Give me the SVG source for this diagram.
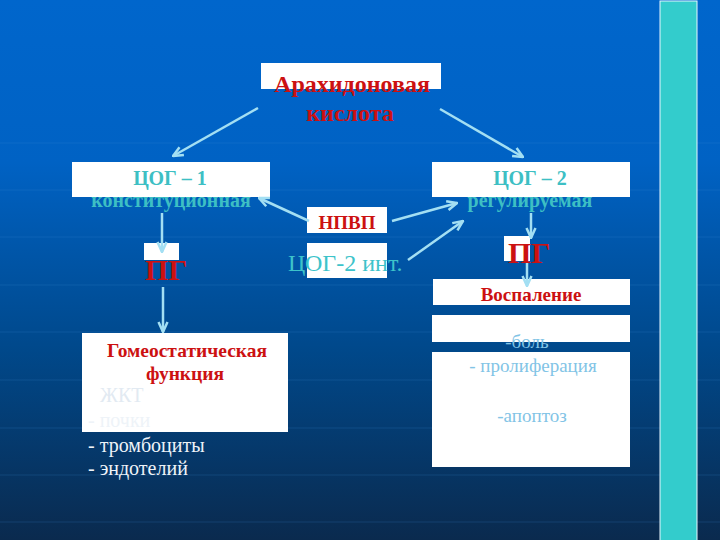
<svg xmlns="http://www.w3.org/2000/svg" width="720" height="540" viewBox="0 0 720 540">
<defs>
<linearGradient id="bg" x1="0" y1="0" x2="0" y2="1">
<stop offset="0" stop-color="#0066CC"/>
<stop offset="0.3" stop-color="#0062C4"/>
<stop offset="0.65" stop-color="#00488A"/>
<stop offset="1" stop-color="#0A2A4E"/>
</linearGradient>
<marker id="ah" viewBox="0 0 12 12" refX="11" refY="6" markerWidth="12" markerHeight="12" markerUnits="userSpaceOnUse" orient="auto">
<path d="M1,1.5 L11,6 L1,10.5" fill="none" stroke="#A3DFF3" stroke-width="2.5" stroke-linejoin="miter"/>
</marker>
<style>
.box{fill:#FFFFFF}
.red{font-family:"Liberation Serif",serif;font-weight:bold;fill:#CC1111}
.teal{font-family:"Liberation Serif",serif;font-weight:bold;fill:#3DBFC4}
.lb{font-family:"Liberation Serif",serif;fill:#82C4E6;font-size:19px}
.wh{font-family:"Liberation Serif",serif;fill:#EEF3F8;font-size:20px}
.grid{stroke:#3F8FD8;stroke-width:1;opacity:0.2}
.conn{fill:none;stroke:#A3DFF3;stroke-width:2.5;marker-end:url(#ah)}
</style>
</defs>
<rect x="0" y="0" width="720" height="540" fill="url(#bg)"/>
<g id="grid">
<line class="grid" x1="0" y1="143" x2="720" y2="143"/>
<line class="grid" x1="0" y1="190" x2="720" y2="190"/>
<line class="grid" x1="0" y1="237" x2="720" y2="237"/>
<line class="grid" x1="0" y1="285" x2="720" y2="285"/>
<line class="grid" x1="0" y1="332" x2="720" y2="332"/>
<line class="grid" x1="0" y1="380" x2="720" y2="380"/>
<line class="grid" x1="0" y1="428" x2="720" y2="428"/>
<line class="grid" x1="0" y1="475" x2="720" y2="475"/>
<line class="grid" x1="0" y1="522" x2="720" y2="522"/>
</g>
<rect id="sidebar" x="660" y="1" width="37" height="540" fill="#33CCCC" stroke="#E8F8FF" stroke-width="1"/>
<g id="arachidonic">
<rect class="box" x="261" y="63" width="180" height="26"/>
<text class="red" x="352" y="92" font-size="24" text-anchor="middle">Арахидоновая</text>
<text class="red" x="350" y="121" font-size="24" text-anchor="middle">кислота</text>
</g>
<g id="cox1">
<rect class="box" x="72" y="162" width="198" height="35"/>
<text class="teal" x="170" y="185" font-size="20" text-anchor="middle">ЦОГ – 1</text>
<text class="teal" x="171" y="207" font-size="20" text-anchor="middle">конституционная</text>
</g>
<g id="cox2">
<rect class="box" x="432" y="162" width="198" height="35"/>
<text class="teal" x="530" y="185" font-size="20" text-anchor="middle">ЦОГ – 2</text>
<text class="teal" x="530" y="207" font-size="20" text-anchor="middle">регулируемая</text>
</g>
<g id="nsaid">
<rect class="box" x="307" y="207" width="80" height="26"/>
<text class="red" x="347" y="229" font-size="19" text-anchor="middle">НПВП</text>
</g>
<g id="cox2int">
<rect class="box" x="307" y="243" width="80" height="35"/>
<text x="288" y="271" font-family="Liberation Serif, serif" font-size="24" fill="#3DC3CA">ЦОГ-2 инт.</text>
</g>
<g id="pg-left">
<rect class="box" x="144" y="243" width="35" height="17"/>
<text class="red" x="145" y="280" font-size="30">ПГ</text>
</g>
<g id="pg-right">
<rect class="box" x="504" y="236" width="26" height="25"/>
<text class="red" x="508" y="263" font-size="30">ПГ</text>
</g>
<g id="inflammation">
<rect class="box" x="433" y="279" width="197" height="26"/>
<text class="red" x="531" y="301" font-size="19" text-anchor="middle">Воспаление</text>
</g>
<g id="effects">
<rect class="box" x="432" y="315" width="198" height="27"/>
<rect class="box" x="432" y="352" width="198" height="115"/>
<text class="lb" x="527" y="348" text-anchor="middle">-боль</text>
<text class="lb" x="533" y="372" text-anchor="middle">- пролиферация</text>
<text class="lb" x="532" y="422" text-anchor="middle">-апоптоз</text>
</g>
<g id="homeostatic">
<rect class="box" x="82" y="333" width="206" height="99"/>
<text class="red" x="187" y="357" font-size="19.5" text-anchor="middle">Гомеостатическая</text>
<text class="red" x="185" y="380" font-size="19.5" text-anchor="middle">функция</text>
<text x="100" y="402" font-family="Liberation Serif, serif" font-size="20" fill="#E2EAF2">ЖКТ</text>
<text class="wh" x="88" y="427">- почки</text>
<text class="wh" x="88" y="452">- тромбоциты</text>
<text class="wh" x="88" y="475">- эндотелий</text>
</g>
<g id="connectors">
<line class="conn" x1="258" y1="108" x2="173" y2="156"/>
<line class="conn" x1="440" y1="109" x2="523" y2="157"/>
<line class="conn" x1="309" y1="221" x2="259" y2="198"/>
<line class="conn" x1="392" y1="221" x2="457" y2="203"/>
<line class="conn" x1="408" y1="260" x2="463" y2="221"/>
<line class="conn" x1="162" y1="213" x2="162" y2="252"/>
<line class="conn" x1="163" y1="287" x2="163" y2="332"/>
<line class="conn" x1="531" y1="213" x2="531" y2="238"/>
<line class="conn" x1="527" y1="263" x2="527" y2="286"/>
</g>
</svg>
